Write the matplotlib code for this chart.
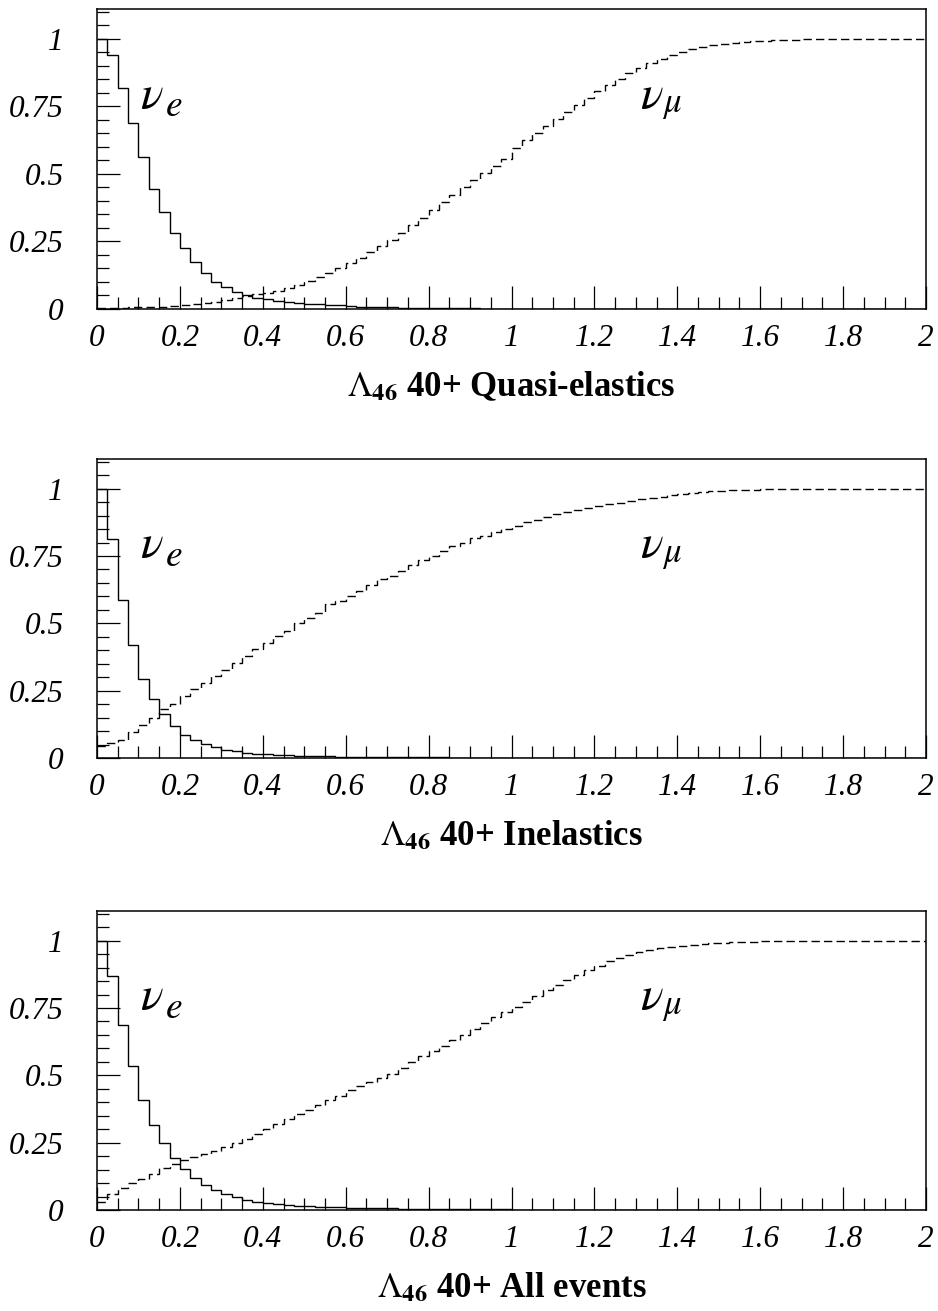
import matplotlib
matplotlib.use('Agg')
import matplotlib.pyplot as plt
import numpy as np
from matplotlib.ticker import FixedLocator, MultipleLocator

plt.rcParams['mathtext.fontset'] = 'stix'

# ---------------- data (80 bins of width 0.025 from 0 to 2) ----------------
x_range = (0.0, 2.0)

qe_nue = [1.0, 0.94, 0.817, 0.688, 0.564, 0.443, 0.359, 0.280, 0.225, 0.175, 0.132, 0.101, 0.080, 0.064, 0.052, 0.042,
          0.036, 0.031, 0.027, 0.023, 0.020, 0.017, 0.015, 0.013, 0.011, 0.009, 0.008, 0.007, 0.006, 0.005, 0.004, 0.004,
          0.003, 0.003, 0.002, 0.002, 0.002, 0.001, 0.001, 0.001, 0.001, 0.001, 0, 0, 0, 0, 0, 0,
          0, 0, 0, 0, 0, 0, 0, 0, 0, 0, 0, 0, 0, 0, 0, 0,
          0, 0, 0, 0, 0, 0, 0, 0, 0, 0, 0, 0, 0, 0, 0, 0]
qe_numu = [0.002, 0.003, 0.004, 0.006, 0.007, 0.008, 0.009, 0.011, 0.014, 0.017, 0.021, 0.026, 0.032, 0.042, 0.048, 0.054,
           0.060, 0.068, 0.078, 0.090, 0.104, 0.120, 0.135, 0.152, 0.170, 0.190, 0.210, 0.232, 0.256, 0.280, 0.310, 0.338,
           0.366, 0.395, 0.422, 0.450, 0.476, 0.502, 0.530, 0.556, 0.595, 0.625, 0.652, 0.678, 0.703, 0.730, 0.755, 0.780,
           0.805, 0.830, 0.852, 0.873, 0.893, 0.910, 0.925, 0.940, 0.952, 0.961, 0.969, 0.976, 0.981, 0.985, 0.988, 0.991,
           0.993, 0.995, 0.996, 0.997, 0.998, 0.999, 1.0, 1.0, 1.0, 1.0, 1.0, 1.0, 1.0, 1.0, 1.0, 1.0]

in_nue = [1.0, 0.814, 0.586, 0.418, 0.294, 0.219, 0.164, 0.120, 0.087, 0.068, 0.053, 0.040, 0.031, 0.025, 0.019, 0.015,
          0.013, 0.011, 0.010, 0.009, 0.008, 0.007, 0.006, 0.005, 0.005, 0.004, 0.004, 0.003, 0.003, 0.003, 0.002, 0.002,
          0.002, 0.002, 0.001, 0.001, 0.001, 0.001, 0.001, 0, 0, 0, 0, 0, 0, 0, 0, 0,
          0, 0, 0, 0, 0, 0, 0, 0, 0, 0, 0, 0, 0, 0, 0, 0,
          0, 0, 0, 0, 0, 0, 0, 0, 0, 0, 0, 0, 0, 0, 0, 0]
in_numu = [0.046, 0.055, 0.068, 0.095, 0.124, 0.150, 0.182, 0.202, 0.232, 0.257, 0.279, 0.304, 0.328, 0.353, 0.380, 0.403,
           0.428, 0.452, 0.471, 0.502, 0.520, 0.539, 0.570, 0.582, 0.601, 0.620, 0.644, 0.663, 0.677, 0.695, 0.717, 0.736,
           0.750, 0.770, 0.786, 0.800, 0.815, 0.826, 0.838, 0.850, 0.862, 0.875, 0.885, 0.895, 0.905, 0.912, 0.920, 0.927,
           0.935, 0.942, 0.948, 0.954, 0.960, 0.965, 0.970, 0.975, 0.980, 0.984, 0.988, 0.990, 0.992, 0.994, 0.995, 0.996,
           0.997, 0.998, 0.999, 1.0, 1.0, 1.0, 1.0, 1.0, 1.0, 1.0, 1.0, 1.0, 1.0, 1.0, 1.0, 1.0]

all_nue = [1.0, 0.870, 0.688, 0.533, 0.409, 0.314, 0.248, 0.192, 0.151, 0.118, 0.093, 0.074, 0.059, 0.047, 0.037, 0.030,
           0.025, 0.021, 0.018, 0.016, 0.014, 0.012, 0.011, 0.010, 0.009, 0.008, 0.007, 0.006, 0.006, 0.005, 0.005, 0.004,
           0.004, 0.003, 0.003, 0.003, 0.002, 0.002, 0.002, 0.002, 0.001, 0.001, 0.001, 0.001, 0.001, 0.001, 0, 0,
           0, 0, 0, 0, 0, 0, 0, 0, 0, 0, 0, 0, 0, 0, 0, 0,
           0, 0, 0, 0, 0, 0, 0, 0, 0, 0, 0, 0, 0, 0, 0, 0]
all_numu = [0.030, 0.060, 0.080, 0.100, 0.115, 0.135, 0.155, 0.170, 0.186, 0.196, 0.208, 0.220, 0.233, 0.248, 0.265, 0.283,
            0.302, 0.320, 0.337, 0.356, 0.372, 0.388, 0.407, 0.424, 0.444, 0.460, 0.475, 0.490, 0.505, 0.527, 0.548, 0.570,
            0.589, 0.610, 0.630, 0.651, 0.672, 0.694, 0.715, 0.734, 0.752, 0.774, 0.793, 0.815, 0.836, 0.855, 0.874, 0.892,
            0.907, 0.923, 0.937, 0.948, 0.958, 0.966, 0.972, 0.977, 0.980, 0.984, 0.987, 0.990, 0.992, 0.994, 0.995, 0.996,
            0.997, 0.998, 0.999, 1.0, 1.0, 1.0, 1.0, 1.0, 1.0, 1.0, 1.0, 1.0, 1.0, 1.0, 1.0, 1.0]

titles = [r'$\Lambda_{\mathbf{46}}$ 40+ Quasi-elastics',
          r'$\Lambda_{\mathbf{46}}$ 40+ Inelastics',
          r'$\Lambda_{\mathbf{46}}$ 40+ All events']

xtick_vals = [0, 0.2, 0.4, 0.6, 0.8, 1.0, 1.2, 1.4, 1.6, 1.8, 2.0]
xtick_labels = ['0', '0.2', '0.4', '0.6', '0.8', '1', '1.2', '1.4', '1.6', '1.8', '2']
ytick_vals = [0, 0.25, 0.5, 0.75, 1.0]
ytick_labels = ['0', '0.25', '0.5', '0.75', '1']

nu_symbol = r'$\nu$'
sub_e = r'$e$'
sub_mu = r'$\mu$'

# ---------------- figure ----------------
W, H = 938, 1311
fig = plt.figure(figsize=(W / 100, H / 100), dpi=100)

left_px, right_px = 97, 926
panels_px = [(9, 309), (459, 758), (911, 1210)]
series = [(qe_nue, qe_numu), (in_nue, in_numu), (all_nue, all_numu)]

for (top, bot), (nue, numu), title in zip(panels_px, series, titles):
    ax = fig.add_axes([left_px / W, 1 - bot / H, (right_px - left_px) / W, (bot - top) / H])
    edges = np.linspace(x_range[0], x_range[1], len(nue) + 1)
    ax.stairs(nue, edges, baseline=None, color='black', lw=1.0)
    ax.stairs(numu, edges, baseline=None, color='black', lw=1.0, linestyle=(0, (6, 3)))
    ax.set_xlim(*x_range)
    ax.set_ylim(0, 1.11)

    ax.xaxis.set_major_locator(FixedLocator(xtick_vals))
    ax.set_xticklabels(xtick_labels)
    ax.yaxis.set_major_locator(FixedLocator(ytick_vals))
    ax.set_yticklabels(ytick_labels)
    ax.xaxis.set_minor_locator(MultipleLocator(0.05))
    ax.yaxis.set_minor_locator(MultipleLocator(0.05))
    ax.tick_params(which='both', direction='in', top=False, right=False, width=0.9)
    ax.tick_params(which='major', length=16.5)
    ax.tick_params(which='minor', length=8.5)
    ax.tick_params(axis='x', which='major', pad=11)
    ax.tick_params(axis='y', which='major', pad=24)
    for lab in ax.get_xticklabels() + ax.get_yticklabels():
        lab.set_fontfamily('Liberation Serif')
        lab.set_fontstyle('italic')
        lab.set_fontsize(22.5)
    for sp in ax.spines.values():
        sp.set_linewidth(1.1)

    # neutrino labels (symbol + enlarged subscript)
    ax.text(0.104, 0.745, nu_symbol, fontsize=34, va='baseline', ha='left')
    ax.text(0.164, 0.713, sub_e, fontsize=27, va='baseline', ha='left')
    ax.text(1.31, 0.745, nu_symbol, fontsize=34, va='baseline', ha='left')
    ax.text(1.363, 0.728, sub_mu, fontsize=25, va='baseline', ha='left')

    ax.text(0.5, -87 / (bot - top), title,
            transform=ax.transAxes, ha='center', va='baseline',
            fontsize=25, fontweight='bold', family='Liberation Serif')

fig.savefig('out.png', dpi=100)
